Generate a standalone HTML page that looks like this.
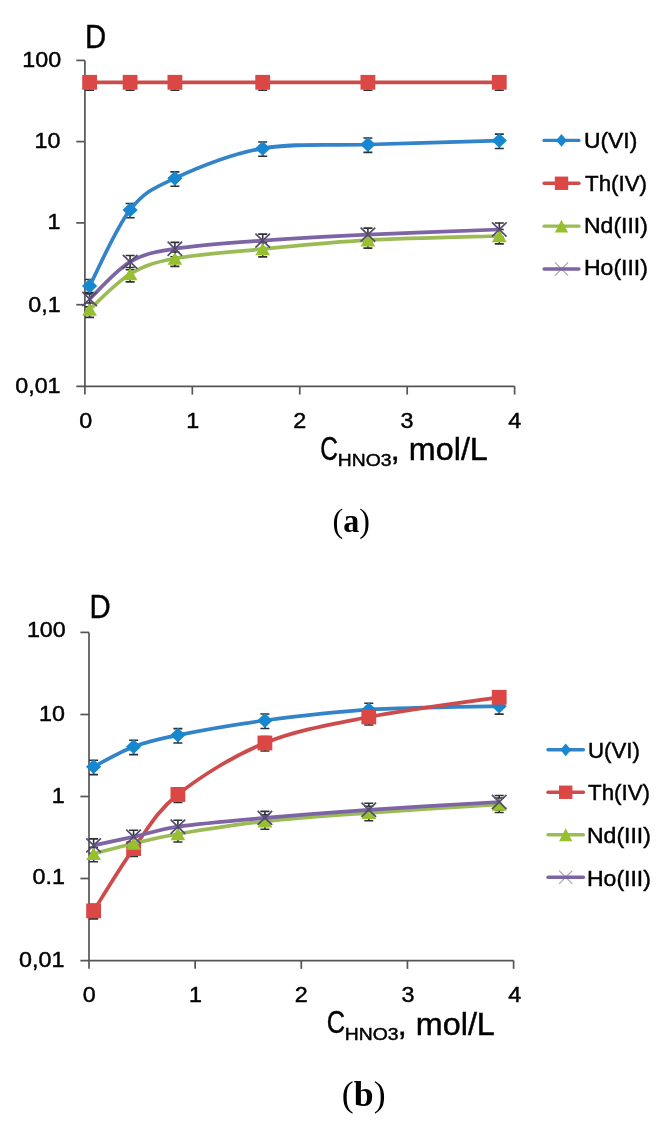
<!DOCTYPE html>
<html><head><meta charset="utf-8"><style>
html,body{margin:0;padding:0;background:#fff;}
body{width:670px;height:1127px;overflow:hidden;position:relative;}
svg{position:absolute;left:0;top:0;filter:blur(0.3px);}
</style></head><body>
<svg width="670" height="1127" viewBox="0 0 670 1127">
<g stroke="#555555" stroke-width="1.7" fill="none">
<path d="M84.90,60.40 L84.90,394.60"/>
<path d="M76.30,386.30 L514.62,386.30"/>
<path d="M76.30,60.40 L84.90,60.40"/>
<path d="M76.30,141.60 L84.90,141.60"/>
<path d="M76.30,222.90 L84.90,222.90"/>
<path d="M76.30,304.70 L84.90,304.70"/>
<path d="M192.33,386.30 L192.33,394.60"/>
<path d="M299.76,386.30 L299.76,394.60"/>
<path d="M407.19,386.30 L407.19,394.60"/>
<path d="M514.62,386.30 L514.62,394.60"/>
</g>
<path d="M89.60,279.55 L89.60,293.90 M85.10,279.55 L94.10,279.55 M85.10,293.90 L94.10,293.90" stroke="#303030" stroke-width="1.6" fill="none"/>
<path d="M130.10,203.45 L130.10,217.80 M125.60,203.45 L134.60,203.45 M125.60,217.80 L134.60,217.80" stroke="#303030" stroke-width="1.6" fill="none"/>
<path d="M174.90,171.85 L174.90,186.20 M170.40,171.85 L179.40,171.85 M170.40,186.20 L179.40,186.20" stroke="#303030" stroke-width="1.6" fill="none"/>
<path d="M262.70,141.95 L262.70,156.30 M258.20,141.95 L267.20,141.95 M258.20,156.30 L267.20,156.30" stroke="#303030" stroke-width="1.6" fill="none"/>
<path d="M367.90,138.05 L367.90,152.40 M363.40,138.05 L372.40,138.05 M363.40,152.40 L372.40,152.40" stroke="#303030" stroke-width="1.6" fill="none"/>
<path d="M499.30,134.15 L499.30,148.50 M494.80,134.15 L503.80,134.15 M494.80,148.50 L503.80,148.50" stroke="#303030" stroke-width="1.6" fill="none"/>
<path d="M89.60,75.85 L89.60,90.20 M85.10,75.85 L94.10,75.85 M85.10,90.20 L94.10,90.20" stroke="#303030" stroke-width="1.6" fill="none"/>
<path d="M130.10,75.85 L130.10,90.20 M125.60,75.85 L134.60,75.85 M125.60,90.20 L134.60,90.20" stroke="#303030" stroke-width="1.6" fill="none"/>
<path d="M174.90,75.85 L174.90,90.20 M170.40,75.85 L179.40,75.85 M170.40,90.20 L179.40,90.20" stroke="#303030" stroke-width="1.6" fill="none"/>
<path d="M262.70,75.85 L262.70,90.20 M258.20,75.85 L267.20,75.85 M258.20,90.20 L267.20,90.20" stroke="#303030" stroke-width="1.6" fill="none"/>
<path d="M367.90,75.85 L367.90,90.20 M363.40,75.85 L372.40,75.85 M363.40,90.20 L372.40,90.20" stroke="#303030" stroke-width="1.6" fill="none"/>
<path d="M499.30,75.85 L499.30,90.20 M494.80,75.85 L503.80,75.85 M494.80,90.20 L503.80,90.20" stroke="#303030" stroke-width="1.6" fill="none"/>
<path d="M89.60,303.05 L89.60,317.40 M85.10,303.05 L94.10,303.05 M85.10,317.40 L94.10,317.40" stroke="#303030" stroke-width="1.6" fill="none"/>
<path d="M130.10,267.55 L130.10,281.90 M125.60,267.55 L134.60,267.55 M125.60,281.90 L134.60,281.90" stroke="#303030" stroke-width="1.6" fill="none"/>
<path d="M174.90,252.05 L174.90,266.40 M170.40,252.05 L179.40,252.05 M170.40,266.40 L179.40,266.40" stroke="#303030" stroke-width="1.6" fill="none"/>
<path d="M262.70,242.55 L262.70,256.90 M258.20,242.55 L267.20,242.55 M258.20,256.90 L267.20,256.90" stroke="#303030" stroke-width="1.6" fill="none"/>
<path d="M367.90,233.75 L367.90,248.10 M363.40,233.75 L372.40,233.75 M363.40,248.10 L372.40,248.10" stroke="#303030" stroke-width="1.6" fill="none"/>
<path d="M499.30,229.55 L499.30,243.90 M494.80,229.55 L503.80,229.55 M494.80,243.90 L503.80,243.90" stroke="#303030" stroke-width="1.6" fill="none"/>
<path d="M89.60,292.55 L89.60,306.90 M85.10,292.55 L94.10,292.55 M85.10,306.90 L94.10,306.90" stroke="#303030" stroke-width="1.6" fill="none"/>
<path d="M130.10,255.45 L130.10,269.80 M125.60,255.45 L134.60,255.45 M125.60,269.80 L134.60,269.80" stroke="#303030" stroke-width="1.6" fill="none"/>
<path d="M174.90,242.35 L174.90,256.70 M170.40,242.35 L179.40,242.35 M170.40,256.70 L179.40,256.70" stroke="#303030" stroke-width="1.6" fill="none"/>
<path d="M262.70,234.15 L262.70,248.50 M258.20,234.15 L267.20,234.15 M258.20,248.50 L267.20,248.50" stroke="#303030" stroke-width="1.6" fill="none"/>
<path d="M367.90,228.15 L367.90,242.50 M363.40,228.15 L372.40,228.15 M363.40,242.50 L372.40,242.50" stroke="#303030" stroke-width="1.6" fill="none"/>
<path d="M499.30,223.05 L499.30,237.40 M494.80,223.05 L503.80,223.05 M494.80,237.40 L503.80,237.40" stroke="#303030" stroke-width="1.6" fill="none"/>
<path d="M89.60,286.00 C96.35,273.32 115.88,227.85 130.10,209.90 C144.32,191.95 152.80,188.55 174.90,178.30 C197.00,168.05 230.53,154.03 262.70,148.40 C294.87,142.77 328.47,145.80 367.90,144.50 C407.33,143.20 477.40,141.25 499.30,140.60" stroke="#3383c9" stroke-width="3.7" fill="none" stroke-linejoin="round"/>
<path d="M89.60,278.60 L97.20,286.00 L89.60,293.40 L82.00,286.00 Z" fill="#1787cf"/>
<path d="M130.10,202.50 L137.70,209.90 L130.10,217.30 L122.50,209.90 Z" fill="#1787cf"/>
<path d="M174.90,170.90 L182.50,178.30 L174.90,185.70 L167.30,178.30 Z" fill="#1787cf"/>
<path d="M262.70,141.00 L270.30,148.40 L262.70,155.80 L255.10,148.40 Z" fill="#1787cf"/>
<path d="M367.90,137.10 L375.50,144.50 L367.90,151.90 L360.30,144.50 Z" fill="#1787cf"/>
<path d="M499.30,133.20 L506.90,140.60 L499.30,148.00 L491.70,140.60 Z" fill="#1787cf"/>
<path d="M89.60,82.30 C96.35,82.30 115.88,82.30 130.10,82.30 C144.32,82.30 152.80,82.30 174.90,82.30 C197.00,82.30 230.53,82.30 262.70,82.30 C294.87,82.30 328.47,82.30 367.90,82.30 C407.33,82.30 477.40,82.30 499.30,82.30" stroke="#cd4b4b" stroke-width="3.7" fill="none" stroke-linejoin="round"/>
<rect x="82.20" y="74.90" width="14.80" height="14.80" fill="#da4745"/>
<rect x="122.70" y="74.90" width="14.80" height="14.80" fill="#da4745"/>
<rect x="167.50" y="74.90" width="14.80" height="14.80" fill="#da4745"/>
<rect x="255.30" y="74.90" width="14.80" height="14.80" fill="#da4745"/>
<rect x="360.50" y="74.90" width="14.80" height="14.80" fill="#da4745"/>
<rect x="491.90" y="74.90" width="14.80" height="14.80" fill="#da4745"/>
<path d="M89.60,309.50 C96.35,303.58 115.88,282.50 130.10,274.00 C144.32,265.50 152.80,262.67 174.90,258.50 C197.00,254.33 230.53,252.05 262.70,249.00 C294.87,245.95 328.47,242.37 367.90,240.20 C407.33,238.03 477.40,236.70 499.30,236.00" stroke="#9bbb55" stroke-width="3.7" fill="none" stroke-linejoin="round"/>
<path d="M89.60,303.20 L97.00,315.80 L82.20,315.80 Z" fill="#97bf2e"/>
<path d="M130.10,267.70 L137.50,280.30 L122.70,280.30 Z" fill="#97bf2e"/>
<path d="M174.90,252.20 L182.30,264.80 L167.50,264.80 Z" fill="#97bf2e"/>
<path d="M262.70,242.70 L270.10,255.30 L255.30,255.30 Z" fill="#97bf2e"/>
<path d="M367.90,233.90 L375.30,246.50 L360.50,246.50 Z" fill="#97bf2e"/>
<path d="M499.30,229.70 L506.70,242.30 L491.90,242.30 Z" fill="#97bf2e"/>
<path d="M89.60,299.00 C96.35,292.82 115.88,270.27 130.10,261.90 C144.32,253.53 152.80,252.35 174.90,248.80 C197.00,245.25 230.53,242.97 262.70,240.60 C294.87,238.23 328.47,236.45 367.90,234.60 C407.33,232.75 477.40,230.35 499.30,229.50" stroke="#7d64a4" stroke-width="3.7" fill="none" stroke-linejoin="round"/>
<path d="M82.30,291.92 L96.90,306.08 M96.90,291.92 L82.30,306.08" stroke="#534c6e" stroke-width="1.7" fill="none"/>
<path d="M122.80,254.82 L137.40,268.98 M137.40,254.82 L122.80,268.98" stroke="#534c6e" stroke-width="1.7" fill="none"/>
<path d="M167.60,241.72 L182.20,255.88 M182.20,241.72 L167.60,255.88" stroke="#534c6e" stroke-width="1.7" fill="none"/>
<path d="M255.40,233.52 L270.00,247.68 M270.00,233.52 L255.40,247.68" stroke="#534c6e" stroke-width="1.7" fill="none"/>
<path d="M360.60,227.52 L375.20,241.68 M375.20,227.52 L360.60,241.68" stroke="#534c6e" stroke-width="1.7" fill="none"/>
<path d="M492.00,222.42 L506.60,236.58 M506.60,222.42 L492.00,236.58" stroke="#534c6e" stroke-width="1.7" fill="none"/>
<path d="M544.10,140.40 L578.90,140.40" stroke="#3383c9" stroke-width="3.4" stroke-linecap="round"/>
<path d="M561.50,134.00 L566.90,140.40 L561.50,146.80 L556.10,140.40 Z" fill="#1787cf"/>
<path d="M544.10,183.27 L578.90,183.27" stroke="#cd4b4b" stroke-width="3.4" stroke-linecap="round"/>
<rect x="554.80" y="176.57" width="13.40" height="13.40" fill="#da4745"/>
<path d="M544.10,226.14 L578.90,226.14" stroke="#9bbb55" stroke-width="3.4" stroke-linecap="round"/>
<path d="M561.50,219.74 L568.10,232.54 L554.90,232.54 Z" fill="#97bf2e"/>
<path d="M554.90,262.41 L568.10,275.61 M568.10,262.41 L554.90,275.61" stroke="#a4a2ac" stroke-width="1.1" fill="none"/>
<path d="M544.10,269.01 L578.90,269.01" stroke="#7d64a4" stroke-width="3.4" stroke-linecap="round"/>
<g stroke="#555555" stroke-width="1.7" fill="none">
<path d="M89.00,632.40 L89.00,968.85"/>
<path d="M80.40,960.55 L513.60,960.55"/>
<path d="M80.40,632.40 L89.00,632.40"/>
<path d="M80.40,714.50 L89.00,714.50"/>
<path d="M80.40,796.50 L89.00,796.50"/>
<path d="M80.40,878.50 L89.00,878.50"/>
<path d="M195.15,960.55 L195.15,968.85"/>
<path d="M301.30,960.55 L301.30,968.85"/>
<path d="M407.45,960.55 L407.45,968.85"/>
<path d="M513.60,960.55 L513.60,968.85"/>
</g>
<path d="M93.60,760.20 L93.60,774.67 M89.10,760.20 L98.10,760.20 M89.10,774.67 L98.10,774.67" stroke="#303030" stroke-width="1.6" fill="none"/>
<path d="M133.60,740.20 L133.60,754.67 M129.10,740.20 L138.10,740.20 M129.10,754.67 L138.10,754.67" stroke="#303030" stroke-width="1.6" fill="none"/>
<path d="M177.90,728.60 L177.90,743.07 M173.40,728.60 L182.40,728.60 M173.40,743.07 L182.40,743.07" stroke="#303030" stroke-width="1.6" fill="none"/>
<path d="M264.90,714.00 L264.90,728.47 M260.40,714.00 L269.40,714.00 M260.40,728.47 L269.40,728.47" stroke="#303030" stroke-width="1.6" fill="none"/>
<path d="M368.80,703.20 L368.80,717.67 M364.30,703.20 L373.30,703.20 M364.30,717.67 L373.30,717.67" stroke="#303030" stroke-width="1.6" fill="none"/>
<path d="M499.20,699.70 L499.20,714.17 M494.70,699.70 L503.70,699.70 M494.70,714.17 L503.70,714.17" stroke="#303030" stroke-width="1.6" fill="none"/>
<path d="M93.60,904.40 L93.60,918.87 M89.10,904.40 L98.10,904.40 M89.10,918.87 L98.10,918.87" stroke="#303030" stroke-width="1.6" fill="none"/>
<path d="M133.60,842.10 L133.60,856.57 M129.10,842.10 L138.10,842.10 M129.10,856.57 L138.10,856.57" stroke="#303030" stroke-width="1.6" fill="none"/>
<path d="M177.90,788.00 L177.90,802.47 M173.40,788.00 L182.40,788.00 M173.40,802.47 L182.40,802.47" stroke="#303030" stroke-width="1.6" fill="none"/>
<path d="M264.90,736.50 L264.90,750.97 M260.40,736.50 L269.40,736.50 M260.40,750.97 L269.40,750.97" stroke="#303030" stroke-width="1.6" fill="none"/>
<path d="M368.80,710.50 L368.80,724.97 M364.30,710.50 L373.30,710.50 M364.30,724.97 L373.30,724.97" stroke="#303030" stroke-width="1.6" fill="none"/>
<path d="M499.20,690.80 L499.20,705.27 M494.70,690.80 L503.70,690.80 M494.70,705.27 L503.70,705.27" stroke="#303030" stroke-width="1.6" fill="none"/>
<path d="M93.60,847.30 L93.60,861.77 M89.10,847.30 L98.10,847.30 M89.10,861.77 L98.10,861.77" stroke="#303030" stroke-width="1.6" fill="none"/>
<path d="M133.60,837.00 L133.60,851.47 M129.10,837.00 L138.10,837.00 M129.10,851.47 L138.10,851.47" stroke="#303030" stroke-width="1.6" fill="none"/>
<path d="M177.90,827.50 L177.90,841.97 M173.40,827.50 L182.40,827.50 M173.40,841.97 L182.40,841.97" stroke="#303030" stroke-width="1.6" fill="none"/>
<path d="M264.90,814.80 L264.90,829.27 M260.40,814.80 L269.40,814.80 M260.40,829.27 L269.40,829.27" stroke="#303030" stroke-width="1.6" fill="none"/>
<path d="M368.80,806.30 L368.80,820.77 M364.30,806.30 L373.30,806.30 M364.30,820.77 L373.30,820.77" stroke="#303030" stroke-width="1.6" fill="none"/>
<path d="M499.20,798.00 L499.20,812.47 M494.70,798.00 L503.70,798.00 M494.70,812.47 L503.70,812.47" stroke="#303030" stroke-width="1.6" fill="none"/>
<path d="M93.60,838.90 L93.60,853.37 M89.10,838.90 L98.10,838.90 M89.10,853.37 L98.10,853.37" stroke="#303030" stroke-width="1.6" fill="none"/>
<path d="M133.60,830.30 L133.60,844.77 M129.10,830.30 L138.10,830.30 M129.10,844.77 L138.10,844.77" stroke="#303030" stroke-width="1.6" fill="none"/>
<path d="M177.90,820.20 L177.90,834.67 M173.40,820.20 L182.40,820.20 M173.40,834.67 L182.40,834.67" stroke="#303030" stroke-width="1.6" fill="none"/>
<path d="M264.90,811.40 L264.90,825.87 M260.40,811.40 L269.40,811.40 M260.40,825.87 L269.40,825.87" stroke="#303030" stroke-width="1.6" fill="none"/>
<path d="M368.80,803.30 L368.80,817.77 M364.30,803.30 L373.30,803.30 M364.30,817.77 L373.30,817.77" stroke="#303030" stroke-width="1.6" fill="none"/>
<path d="M499.20,795.50 L499.20,809.97 M494.70,795.50 L503.70,795.50 M494.70,809.97 L503.70,809.97" stroke="#303030" stroke-width="1.6" fill="none"/>
<path d="M93.60,766.70 C100.27,763.37 119.55,751.97 133.60,746.70 C147.65,741.43 156.02,739.47 177.90,735.10 C199.78,730.73 233.08,724.73 264.90,720.50 C296.72,716.27 329.75,712.08 368.80,709.70 C407.85,707.32 477.47,706.78 499.20,706.20" stroke="#3383c9" stroke-width="3.7" fill="none" stroke-linejoin="round"/>
<path d="M93.60,759.30 L101.20,766.70 L93.60,774.10 L86.00,766.70 Z" fill="#1787cf"/>
<path d="M133.60,739.30 L141.20,746.70 L133.60,754.10 L126.00,746.70 Z" fill="#1787cf"/>
<path d="M177.90,727.70 L185.50,735.10 L177.90,742.50 L170.30,735.10 Z" fill="#1787cf"/>
<path d="M264.90,713.10 L272.50,720.50 L264.90,727.90 L257.30,720.50 Z" fill="#1787cf"/>
<path d="M368.80,702.30 L376.40,709.70 L368.80,717.10 L361.20,709.70 Z" fill="#1787cf"/>
<path d="M499.20,698.80 L506.80,706.20 L499.20,713.60 L491.60,706.20 Z" fill="#1787cf"/>
<path d="M93.60,910.90 C100.27,900.52 119.55,868.00 133.60,848.60 C147.65,829.20 156.02,812.10 177.90,794.50 C199.78,776.90 233.08,755.92 264.90,743.00 C296.72,730.08 329.75,724.62 368.80,717.00 C407.85,709.38 477.47,700.58 499.20,697.30" stroke="#cd4b4b" stroke-width="3.7" fill="none" stroke-linejoin="round"/>
<rect x="86.20" y="903.50" width="14.80" height="14.80" fill="#da4745"/>
<rect x="126.20" y="841.20" width="14.80" height="14.80" fill="#da4745"/>
<rect x="170.50" y="787.10" width="14.80" height="14.80" fill="#da4745"/>
<rect x="257.50" y="735.60" width="14.80" height="14.80" fill="#da4745"/>
<rect x="361.40" y="709.60" width="14.80" height="14.80" fill="#da4745"/>
<rect x="491.80" y="689.90" width="14.80" height="14.80" fill="#da4745"/>
<path d="M93.60,853.80 C100.27,852.08 119.55,846.80 133.60,843.50 C147.65,840.20 156.02,837.70 177.90,834.00 C199.78,830.30 233.08,824.83 264.90,821.30 C296.72,817.77 329.75,815.60 368.80,812.80 C407.85,810.00 477.47,805.88 499.20,804.50" stroke="#9bbb55" stroke-width="3.7" fill="none" stroke-linejoin="round"/>
<path d="M93.60,847.50 L101.00,860.10 L86.20,860.10 Z" fill="#97bf2e"/>
<path d="M133.60,837.20 L141.00,849.80 L126.20,849.80 Z" fill="#97bf2e"/>
<path d="M177.90,827.70 L185.30,840.30 L170.50,840.30 Z" fill="#97bf2e"/>
<path d="M264.90,815.00 L272.30,827.60 L257.50,827.60 Z" fill="#97bf2e"/>
<path d="M368.80,806.50 L376.20,819.10 L361.40,819.10 Z" fill="#97bf2e"/>
<path d="M499.20,798.20 L506.60,810.80 L491.80,810.80 Z" fill="#97bf2e"/>
<path d="M93.60,845.40 C100.27,843.97 119.55,839.92 133.60,836.80 C147.65,833.68 156.02,829.85 177.90,826.70 C199.78,823.55 233.08,820.72 264.90,817.90 C296.72,815.08 329.75,812.45 368.80,809.80 C407.85,807.15 477.47,803.30 499.20,802.00" stroke="#7d64a4" stroke-width="3.7" fill="none" stroke-linejoin="round"/>
<path d="M86.30,838.32 L100.90,852.48 M100.90,838.32 L86.30,852.48" stroke="#534c6e" stroke-width="1.7" fill="none"/>
<path d="M126.30,829.72 L140.90,843.88 M140.90,829.72 L126.30,843.88" stroke="#534c6e" stroke-width="1.7" fill="none"/>
<path d="M170.60,819.62 L185.20,833.78 M185.20,819.62 L170.60,833.78" stroke="#534c6e" stroke-width="1.7" fill="none"/>
<path d="M257.60,810.82 L272.20,824.98 M272.20,810.82 L257.60,824.98" stroke="#534c6e" stroke-width="1.7" fill="none"/>
<path d="M361.50,802.72 L376.10,816.88 M376.10,802.72 L361.50,816.88" stroke="#534c6e" stroke-width="1.7" fill="none"/>
<path d="M491.90,794.92 L506.50,809.08 M506.50,794.92 L491.90,809.08" stroke="#534c6e" stroke-width="1.7" fill="none"/>
<path d="M548.00,749.80 L583.40,749.80" stroke="#3383c9" stroke-width="3.4" stroke-linecap="round"/>
<path d="M565.70,743.40 L571.10,749.80 L565.70,756.20 L560.30,749.80 Z" fill="#1787cf"/>
<path d="M548.00,792.27 L583.40,792.27" stroke="#cd4b4b" stroke-width="3.4" stroke-linecap="round"/>
<rect x="559.00" y="785.57" width="13.40" height="13.40" fill="#da4745"/>
<path d="M548.00,834.74 L583.40,834.74" stroke="#9bbb55" stroke-width="3.4" stroke-linecap="round"/>
<path d="M565.70,828.34 L572.30,841.14 L559.10,841.14 Z" fill="#97bf2e"/>
<path d="M559.10,870.61 L572.30,883.81 M572.30,870.61 L559.10,883.81" stroke="#a4a2ac" stroke-width="1.1" fill="none"/>
<path d="M548.00,877.21 L583.40,877.21" stroke="#7d64a4" stroke-width="3.4" stroke-linecap="round"/>
<text id="ya100" transform="translate(22.36,66.93) scale(1.0600,1)" font-family='"Liberation Sans",sans-serif' font-size="22.00" fill="#000" stroke="#000" stroke-width="0.45">100</text>
<text id="ya10" transform="translate(34.60,147.80) scale(1.0600,1)" font-family='"Liberation Sans",sans-serif' font-size="22.00" fill="#000" stroke="#000" stroke-width="0.45">10</text>
<text id="ya1" transform="translate(47.40,229.40) scale(1.0600,1)" font-family='"Liberation Sans",sans-serif' font-size="22.00" fill="#000" stroke="#000" stroke-width="0.45">1</text>
<text id="ya01" transform="translate(28.20,311.90) scale(1.0600,1)" font-family='"Liberation Sans",sans-serif' font-size="22.00" fill="#000" stroke="#000" stroke-width="0.45">0,1</text>
<text id="ya001" transform="translate(15.20,392.70) scale(1.0600,1)" font-family='"Liberation Sans",sans-serif' font-size="22.00" fill="#000" stroke="#000" stroke-width="0.45">0,01</text>
<text id="xa0" transform="translate(79.20,428.00) scale(1.0600,1)" font-family='"Liberation Sans",sans-serif' font-size="22.00" fill="#000" stroke="#000" stroke-width="0.45">0</text>
<text id="xa1" transform="translate(186.30,428.00) scale(1.0600,1)" font-family='"Liberation Sans",sans-serif' font-size="22.00" fill="#000" stroke="#000" stroke-width="0.45">1</text>
<text id="xa2" transform="translate(293.30,428.00) scale(1.0600,1)" font-family='"Liberation Sans",sans-serif' font-size="22.00" fill="#000" stroke="#000" stroke-width="0.45">2</text>
<text id="xa3" transform="translate(400.40,428.00) scale(1.0600,1)" font-family='"Liberation Sans",sans-serif' font-size="22.00" fill="#000" stroke="#000" stroke-width="0.45">3</text>
<text id="xa4" transform="translate(508.30,428.00) scale(1.0600,1)" font-family='"Liberation Sans",sans-serif' font-size="22.00" fill="#000" stroke="#000" stroke-width="0.45">4</text>
<text id="Da" transform="translate(85.12,48.49) scale(0.8739,1)" font-family='"Liberation Sans",sans-serif' font-size="33.56" fill="#000" stroke="#000" stroke-width="0.45">D</text>
<text id="ta_C" transform="translate(320.33,459.98) scale(0.7339,1)" font-family='"Liberation Sans",sans-serif' font-size="33.33" fill="#000" stroke="#000" stroke-width="0.45">C</text>
<text id="ta_sub" transform="translate(337.78,466.06) scale(1.1133,1)" font-family='"Liberation Sans",sans-serif' font-size="17.38" fill="#000" stroke="#000" stroke-width="0.45">HNO3</text>
<text id="ta_rest" transform="translate(390.87,460.00) scale(1.0427,1)" font-family='"Liberation Sans",sans-serif' font-size="31.00" fill="#000" stroke="#000" stroke-width="0.45">, mol/L</text>
<text id="la_U" transform="translate(583.91,147.66) scale(1.0534,1)" font-family='"Liberation Sans",sans-serif' font-size="21.74" fill="#000" stroke="#000" stroke-width="0.45">U(VI)</text>
<text id="la_Th" transform="translate(585.00,190.50) scale(0.9900,1)" font-family='"Liberation Sans",sans-serif' font-size="22.57" fill="#000" stroke="#000" stroke-width="0.45">Th(IV)</text>
<text id="la_Nd" transform="translate(584.00,232.50) scale(1.0200,1)" font-family='"Liberation Sans",sans-serif' font-size="22.57" fill="#000" stroke="#000" stroke-width="0.45">Nd(III)</text>
<text id="la_Ho" transform="translate(584.00,275.00) scale(1.0200,1)" font-family='"Liberation Sans",sans-serif' font-size="22.57" fill="#000" stroke="#000" stroke-width="0.45">Ho(III)</text>
<text id="cap_a" transform="translate(332.53,532.12) scale(0.9314,1)" font-family='"Liberation Serif",serif' font-size="34.47" fill="#000">(<tspan font-weight="bold">a</tspan>)</text>
<text id="yb100" transform="translate(26.90,637.10) scale(1.0600,1)" font-family='"Liberation Sans",sans-serif' font-size="22.00" fill="#000" stroke="#000" stroke-width="0.45">100</text>
<text id="yb10" transform="translate(39.00,720.50) scale(1.0600,1)" font-family='"Liberation Sans",sans-serif' font-size="22.00" fill="#000" stroke="#000" stroke-width="0.45">10</text>
<text id="yb1" transform="translate(51.70,802.50) scale(1.0600,1)" font-family='"Liberation Sans",sans-serif' font-size="22.00" fill="#000" stroke="#000" stroke-width="0.45">1</text>
<text id="yb01" transform="translate(32.50,884.30) scale(1.0600,1)" font-family='"Liberation Sans",sans-serif' font-size="22.00" fill="#000" stroke="#000" stroke-width="0.45">0.1</text>
<text id="yb001" transform="translate(19.10,966.60) scale(1.0600,1)" font-family='"Liberation Sans",sans-serif' font-size="22.00" fill="#000" stroke="#000" stroke-width="0.45">0,01</text>
<text id="xb0" transform="translate(82.70,1001.50) scale(1.0600,1)" font-family='"Liberation Sans",sans-serif' font-size="22.00" fill="#000" stroke="#000" stroke-width="0.45">0</text>
<text id="xb1" transform="translate(189.10,1001.50) scale(1.0600,1)" font-family='"Liberation Sans",sans-serif' font-size="22.00" fill="#000" stroke="#000" stroke-width="0.45">1</text>
<text id="xb2" transform="translate(294.80,1001.50) scale(1.0600,1)" font-family='"Liberation Sans",sans-serif' font-size="22.00" fill="#000" stroke="#000" stroke-width="0.45">2</text>
<text id="xb3" transform="translate(401.40,1001.50) scale(1.0600,1)" font-family='"Liberation Sans",sans-serif' font-size="22.00" fill="#000" stroke="#000" stroke-width="0.45">3</text>
<text id="xb4" transform="translate(508.30,1001.50) scale(1.0600,1)" font-family='"Liberation Sans",sans-serif' font-size="22.00" fill="#000" stroke="#000" stroke-width="0.45">4</text>
<text id="Db" transform="translate(89.62,618.00) scale(0.8672,1)" font-family='"Liberation Sans",sans-serif' font-size="33.83" fill="#000" stroke="#000" stroke-width="0.45">D</text>
<text id="tb_C" transform="translate(326.81,1033.48) scale(0.7868,1)" font-family='"Liberation Sans",sans-serif' font-size="32.19" fill="#000" stroke="#000" stroke-width="0.45">C</text>
<text id="tb_sub" transform="translate(344.78,1039.51) scale(1.1980,1)" font-family='"Liberation Sans",sans-serif' font-size="16.15" fill="#000" stroke="#000" stroke-width="0.45">HNO3</text>
<text id="tb_rest" transform="translate(397.87,1035.00) scale(1.0427,1)" font-family='"Liberation Sans",sans-serif' font-size="31.00" fill="#000" stroke="#000" stroke-width="0.45">, mol/L</text>
<text id="lb_U" transform="translate(588.00,757.61) scale(1.0235,1)" font-family='"Liberation Sans",sans-serif' font-size="21.74" fill="#000" stroke="#000" stroke-width="0.45">U(VI)</text>
<text id="lb_Th" transform="translate(588.00,799.50) scale(0.9900,1)" font-family='"Liberation Sans",sans-serif' font-size="22.57" fill="#000" stroke="#000" stroke-width="0.45">Th(IV)</text>
<text id="lb_Nd" transform="translate(587.00,842.50) scale(1.0200,1)" font-family='"Liberation Sans",sans-serif' font-size="22.57" fill="#000" stroke="#000" stroke-width="0.45">Nd(III)</text>
<text id="lb_Ho" transform="translate(587.00,885.50) scale(1.0200,1)" font-family='"Liberation Sans",sans-serif' font-size="22.57" fill="#000" stroke="#000" stroke-width="0.45">Ho(III)</text>
<text id="cap_b" transform="translate(341.83,1105.58) scale(1.0224,1)" font-family='"Liberation Serif",serif' font-size="34.98" fill="#000">(<tspan font-weight="bold">b</tspan>)</text>
</svg>
</body></html>
